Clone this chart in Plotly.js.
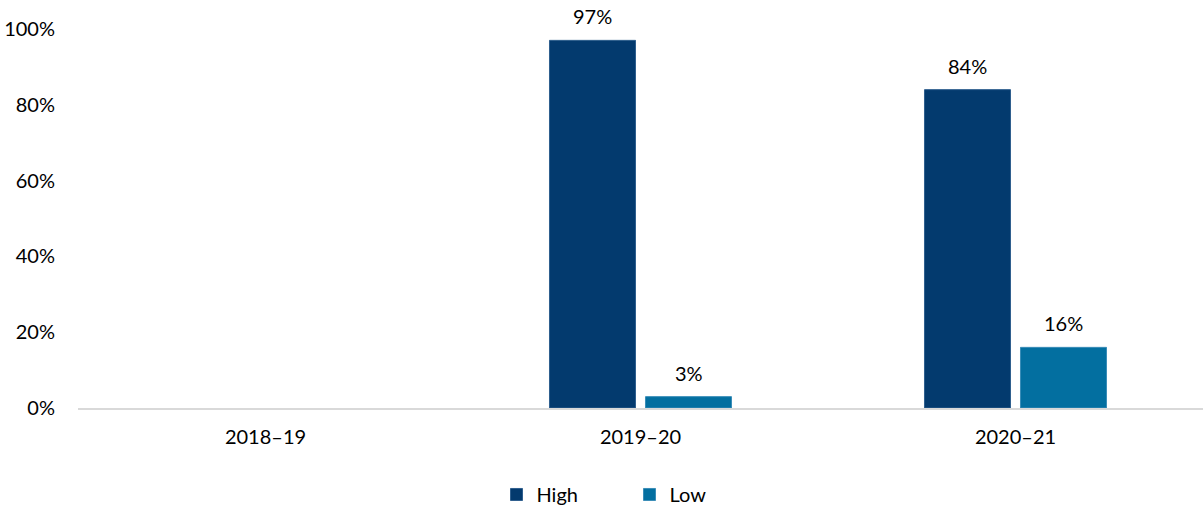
<!DOCTYPE html>
<html>
<head>
<meta charset="utf-8">
<script src="https://cdn.plot.ly/plotly-3.0.1.min.js"></script>
<style>html,body{margin:0;padding:0;background:#fff;}#chart{width:1203px;height:508px;}</style>
</head>
<body>
<div id="chart"></div>
<script>
const categories = ["2018–19", "2019–20", "2020–21"];
const highValues = [null, 97, 84];
const lowValues = [null, 3, 16];
const seriesNames = ["High", "Low"];
const yTickVals = [0, 20, 40, 60, 80, 100];
const yTickText = ["0%", "20%", "40%", "60%", "80%", "100%"];

const FONT = "Lato, 'Open Sans', sans-serif";
const FS = 20;
const fmt = v => v + "%";

const traces = [
  {
    type: "bar", name: seriesNames[0], x: categories, y: highValues,
    marker: {color: "#033A6E", line: {color: "#2F5F8E", width: 1}}, hoverinfo: "x+y"
  },
  {
    type: "bar", name: seriesNames[1], x: categories, y: lowValues,
    marker: {color: "#036FA0", line: {color: "#3A8DB8", width: 1}}, hoverinfo: "x+y"
  }
];

// data labels built from the series arrays
const annotations = [];
[[highValues, -48], [lowValues, 48]].forEach(([vals, shift]) => {
  vals.forEach((v, i) => {
    if (v === null) return;
    annotations.push({
      x: categories[i], y: v, xref: "x", yref: "y", text: fmt(v),
      showarrow: false, xshift: shift, yanchor: "bottom", yshift: 10,
      font: {family: FONT, size: FS, color: "#000"}
    });
  });
});

const layout = {
  width: 1203, height: 508,
  margin: {l: 78, r: 0, t: 29, b: 100},
  paper_bgcolor: "#fff", plot_bgcolor: "#fff",
  font: {family: FONT, size: FS, color: "#000"},
  barmode: "group", bargap: 0.488, bargroupgap: 0.104,
  showlegend: true,
  legend: {orientation: "h", x: 0.372, xanchor: "left", yref: "container", y: 0.065, yanchor: "top",
           font: {family: FONT, size: FS, color: "#000"}, entrywidth: 88, traceorder: "normal"},
  annotations: annotations,
  xaxis: {
    type: "category", showgrid: false, zeroline: false, automargin: false,
    showline: true, linecolor: "#D9D9D9", linewidth: 2,
    ticks: "", ticklabelstandoff: 10, tickfont: {family: FONT, size: FS, color: "#000"}
  },
  yaxis: {
    range: [0, 100], showgrid: false, zeroline: false, showline: false, automargin: false,
    tickvals: yTickVals, ticktext: yTickText, ticks: "", ticklabelstandoff: 22,
    tickfont: {family: FONT, size: FS, color: "#000"}
  }
};

Plotly.newPlot("chart", traces, layout, {displayModeBar: false, responsive: false});
</script>
</body>
</html>
